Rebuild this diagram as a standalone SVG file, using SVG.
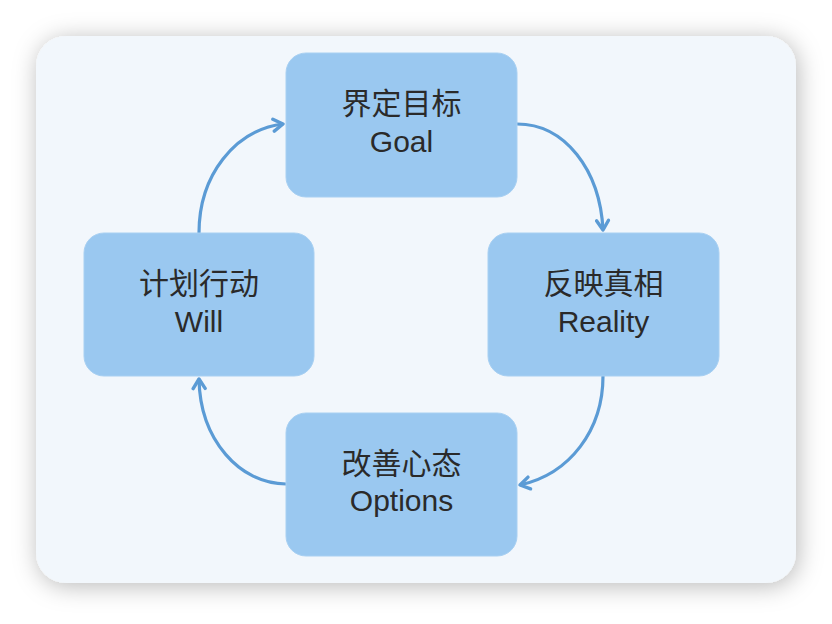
<svg xmlns="http://www.w3.org/2000/svg" width="832" height="624" viewBox="0 0 832 624">
<defs>
<filter id="sh" x="-10%" y="-12%" width="120%" height="126%">
<feDropShadow dx="2" dy="3" stdDeviation="12" flood-color="#000" flood-opacity="0.28"/>
</filter>
<marker id="arr" viewBox="0 0 16 16" refX="13" refY="8" markerWidth="16" markerHeight="16" markerUnits="userSpaceOnUse" orient="auto">
<path d="M3.5,2 L13,8 L3.5,14" fill="none" stroke="#5b9bd5" stroke-width="3.4" stroke-linecap="round" stroke-linejoin="round"/>
</marker>
<style>
.node{fill:#9ac8f0;stroke:#a8d0f2;stroke-width:1}
.zh{font-family:"Noto Sans CJK SC","Noto Sans",sans-serif;font-size:30px;fill:#2a2a2a;text-anchor:middle}
.en{font-family:"Liberation Sans","Noto Sans CJK SC",sans-serif;font-size:30px;fill:#2a2a2a;text-anchor:middle}
.conn path{fill:none;stroke:#5b9bd5;stroke-width:3.2;marker-end:url(#arr)}
</style>
</defs>
<rect width="832" height="624" fill="#ffffff"/>
<rect x="36" y="36" width="760" height="547" rx="30" fill="#f2f7fc" filter="url(#sh)"/>
<g class="conn" id="connectors">
<path d="M517,124 C565,124 600,170 603,230"/>
<path d="M603,376 C603,430 570,474 520,485"/>
<path d="M286,484 C240,484 200,440 199,379"/>
<path d="M199,233 C199,175 235,130 283,124"/>
</g>
<g id="goal">
<rect class="node" x="286" y="53" width="231" height="144" rx="20"/>
<text class="zh" x="401.5" y="114">界定目标</text>
<text class="en" x="401.5" y="152">Goal</text>
</g>
<g id="reality">
<rect class="node" x="488" y="233" width="231" height="143" rx="20"/>
<text class="zh" x="603.5" y="294">反映真相</text>
<text class="en" x="603.5" y="332">Reality</text>
</g>
<g id="will">
<rect class="node" x="84" y="233" width="230" height="143" rx="20"/>
<text class="zh" x="199" y="294">计划行动</text>
<text class="en" x="199" y="332">Will</text>
</g>
<g id="options">
<rect class="node" x="286" y="413" width="231" height="143" rx="20"/>
<text class="zh" x="401.5" y="474">改善心态</text>
<text class="en" x="401.5" y="511">Options</text>
</g>
</svg>
